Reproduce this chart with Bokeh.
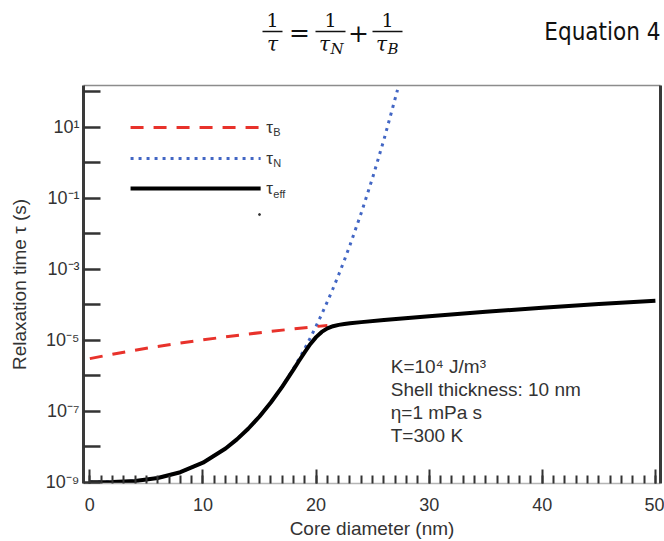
from bokeh.plotting import figure
from bokeh.models import Range1d, FixedTicker, LinearAxis, CustomJSTickFormatter, Label
from bokeh.layouts import column
from bokeh.core.properties import value
from bokeh.embed import file_html
from bokeh.resources import INLINE

# Relaxation times (s) versus magnetic core diameter (nm)
diameter_neel = [0, 2, 4, 6, 8, 10, 12, 13, 14, 15, 16, 17, 18, 18.5, 19, 19.5,
                 20, 20.5, 21, 21.5, 22, 22.5, 23, 24, 25, 26, 27.2]
tau_neel = [1.00e-9, 1.01e-9, 1.08e-9, 1.31e-9, 1.91e-9, 3.54e-9, 8.89e-9, 1.61e-8,
            3.21e-8, 7.13e-8, 1.77e-7, 4.98e-7, 1.59e-6, 2.99e-6, 5.83e-6, 1.18e-5,
            2.47e-5, 5.36e-5, 1.22e-4, 2.86e-4, 7.01e-4, 1.79e-3, 4.78e-3, 3.88e-2,
            0.378, 4.46, 112.0]

diameter_brown = [0, 2, 4, 6, 8, 10, 12, 14, 16, 18, 20, 21]
tau_brown = [3.03e-6, 4.04e-6, 5.24e-6, 6.67e-6, 8.33e-6, 1.02e-5, 1.24e-5, 1.49e-5,
             1.77e-5, 2.08e-5, 2.43e-5, 2.61e-5]

diameter_eff = [0, 2, 4, 6, 8, 10, 12, 13, 14, 15, 16, 17, 18, 18.5, 19, 19.5, 20,
                20.5, 21, 21.5, 22, 22.5, 23, 24, 26, 30, 35, 40, 45, 50]
tau_eff = [1.00e-9, 1.01e-9, 1.08e-9, 1.31e-9, 1.91e-9, 3.54e-9, 8.88e-9, 1.61e-8,
           3.20e-8, 7.09e-8, 1.76e-7, 4.85e-7, 1.48e-6, 2.63e-6, 4.63e-6, 7.83e-6,
           1.22e-5, 1.71e-5, 2.15e-5, 2.48e-5, 2.70e-5, 2.86e-5, 3.00e-5, 3.23e-5,
           3.69e-5, 4.74e-5, 6.31e-5, 8.19e-5, 1.04e-4, 1.30e-4]

x_major = [0, 10, 20, 30, 40, 50]
x_minor = list(range(0, 51))
y_decades = [1e-9, 1e-8, 1e-7, 1e-6, 1e-5, 1e-4, 1e-3, 1e-2, 1e-1, 1e0, 1e1, 1e2]

conditions = ["K=10\u2074 J/m\u00b3", "Shell thickness: 10 nm", "\u03b7=1 mPa s", "T=300 K"]

SANS = "Liberation Sans, Arial, sans-serif"
SERIF = "DejaVu Serif, Liberation Serif, serif"
INK = "#333333"
EQ_INK = "#111111"

# ---- equation strip above the chart (x in page pixels across the aligned frame) ----
eq = figure(width=664, height=75, x_range=Range1d(83, 660), y_range=Range1d(75, 0),
            x_axis_location=None, y_axis_location=None, min_border=0,
            outline_line_color=None, output_backend="svg", toolbar_location=None)
eq.grid.visible = False

fracs = [(272, 20, ""), (330, 30, "N"), (387, 30, "B")]
for cx, w, sub in fracs:
    eq.text(x=[cx], y=[19], text=["1"], text_font=value(SERIF), text_font_size="19px",
            text_align="center", text_baseline="middle", text_color=EQ_INK)
    eq.segment(x0=[cx - w / 2], y0=[31], x1=[cx + w / 2], y1=[31], line_color=EQ_INK,
               line_width=1.6)
    tx = cx - (6 if sub else 0)
    eq.text(x=[tx], y=[43], text=["\u03c4"], text_font=value(SERIF), text_font_size="20px",
            text_font_style="italic", text_align="center", text_baseline="middle",
            text_color=EQ_INK)
    if sub:
        eq.text(x=[tx + 6], y=[48], text=[sub], text_font=value(SERIF), text_font_size="15px",
                text_font_style="italic", text_align="left", text_baseline="middle",
                text_color=EQ_INK)
for sx, sym in [(299, "="), (358, "+")]:
    eq.text(x=[sx], y=[32], text=[sym], text_font=value(SERIF), text_font_size="25px",
            text_align="center", text_baseline="middle", text_color=EQ_INK)
eq.text(x=[660], y=[31], text=["Equation 4"],
        text_font=value("DejaVu Sans Condensed, Liberation Sans Narrow, Liberation Sans"),
        text_font_size="24px", text_align="right", text_baseline="middle", text_color=EQ_INK)

# ---- relaxation time chart ----
p = figure(width=664, height=466, x_range=Range1d(-0.56, 50.45),
           y_range=Range1d(10 ** -9.037, 10 ** 2.175), y_axis_type="log",
           min_border_left=83, min_border_right=4, min_border_top=10, min_border_bottom=58,
           outline_line_color=None, output_backend="svg", toolbar_location=None)
p.grid.visible = False

xa = p.xaxis[0]
xa.ticker = FixedTicker(ticks=x_major, minor_ticks=x_minor)
xa.axis_line_color = "#b5b5b5"
xa.axis_line_width = 1.5
xa.major_tick_in = 14
xa.major_tick_out = 0
xa.minor_tick_in = 8
xa.minor_tick_out = 0
xa.major_tick_line_color = INK
xa.major_tick_line_width = 2
xa.minor_tick_line_color = INK
xa.minor_tick_line_width = 2
xa.major_label_standoff = 14
xa.major_label_text_font = SANS
xa.major_label_text_font_size = "18px"
xa.major_label_text_color = INK
xa.axis_label = "Core diameter (nm)"
xa.axis_label_text_font = SANS
xa.axis_label_text_font_size = "19px"
xa.axis_label_text_font_style = "normal"
xa.axis_label_text_color = INK
xa.axis_label_standoff = 4

ya = p.yaxis[0]
ya.ticker = FixedTicker(ticks=y_decades)
ya.formatter = CustomJSTickFormatter(code="""
    const e = Math.round(Math.log10(tick));
    if (Math.abs(e) % 2 == 0) return "";
    const sup = {"-": "\u207b", "0": "\u2070", "1": "\u00b9", "2": "\u00b2", "3": "\u00b3",
                 "4": "\u2074", "5": "\u2075", "6": "\u2076", "7": "\u2077", "8": "\u2078",
                 "9": "\u2079"};
    return "10" + String(e).split("").map(c => sup[c]).join("");
""")
ya.axis_line_color = "#3a3a3a"
ya.axis_line_width = 3
ya.major_tick_in = 17
ya.major_tick_out = 0
ya.major_tick_line_color = INK
ya.major_tick_line_width = 2.5
ya.minor_tick_line_color = None
ya.major_label_standoff = 4
ya.major_label_text_font = SANS
ya.major_label_text_font_size = "18px"
ya.major_label_text_color = INK
ya.axis_label = "Relaxation time \u03c4 (s)"
ya.axis_label_text_font = SANS
ya.axis_label_text_font_size = "19px"
ya.axis_label_text_font_style = "normal"
ya.axis_label_text_color = INK
ya.axis_label_standoff = 13

# frame edges: thin grey top, heavy right
frame_axis = dict(ticker=FixedTicker(ticks=[]), major_tick_line_color=None,
                  minor_tick_line_color=None, major_tick_in=0, major_tick_out=0,
                  minor_tick_in=0, minor_tick_out=0, major_label_standoff=0)
top = LinearAxis(axis_line_color="#8c8c8c", axis_line_width=1.5, **frame_axis)
right = LinearAxis(axis_line_color="#3a3a3a", axis_line_width=3, **frame_axis)
p.add_layout(top, "above")
p.add_layout(right, "right")

RED = "#e8322b"
BLUE = "#4266c4"

p.line(diameter_neel, tau_neel, line_color=BLUE, line_width=3, line_dash="3 5")
p.line(diameter_brown, tau_brown, line_color=RED, line_width=3, line_dash="13 10")
p.line(diameter_eff, tau_eff, line_color="black", line_width=4)

# legend
legend_rows = [(10 ** 0.992, RED, "13 10", 3, "B"), (10 ** 0.119, BLUE, "3 5", 3, "N"),
               (10 ** -0.727, "black", "solid", 4, "eff")]
for yy, col, dash, lw, sub in legend_rows:
    p.line([3.6, 15.1], [yy, yy], line_color=col, line_dash=dash, line_width=lw)
    p.text(x=[15.6], y=[yy], text=["\u03c4"], text_font=value(SANS), text_font_size="17px",
           text_baseline="middle", text_color=INK)
    p.text(x=[15.6], y=[yy], x_offset=7, y_offset=5, text=[sub], text_font=value(SANS),
           text_font_size="11px", text_baseline="middle", text_color=INK)
p.scatter([15.0], [10 ** -1.46], size=2, color="#333333")

for i, line in enumerate(conditions):
    p.add_layout(Label(x=26.6, y=10 ** -5.741, y_offset=-23 * i, text=line,
                       text_font=SANS, text_font_size="19px", text_color=INK,
                       text_baseline="middle"))

layout = column(eq, p, spacing=0)
open("out.html", "w").write(file_html(layout, INLINE))
